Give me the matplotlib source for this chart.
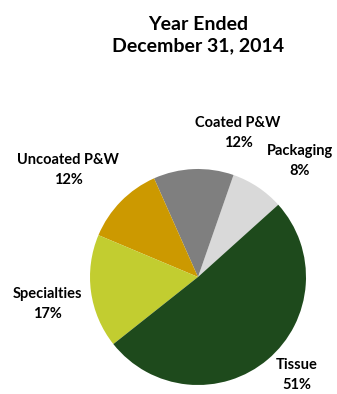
import matplotlib.pyplot as plt

labels = ['Packaging', 'Coated P&W', 'Uncoated P&W', 'Specialties', 'Tissue']
shares = [8, 12, 12, 17, 51]
colors = ['#d9d9d9', '#7f7f7f', '#cc9900', '#c2cd30', '#1e4a1c']

W, H = 337, 394
fig = plt.figure(figsize=(W / 100, H / 100), dpi=100)
ax = fig.add_axes([0, 0, 1, 1])

plt.rcParams['font.family'] = ['Lato', 'DejaVu Sans']

ax.pie(shares, colors=colors, startangle=42, counterclock=True,
       center=(198, H - 277), radius=108, frame=True,
       wedgeprops={'linewidth': 0})
ax.set_xlim(0, W)
ax.set_ylim(0, H)
ax.set_aspect('equal')
ax.axis('off')

ax.text(198, H - 35, 'Year Ended\nDecember 31, 2014', ha='center', va='center',
        fontsize=14, fontweight='bold', linespacing=1.35)

# label centres in pixel coordinates (from top)
label_pos = [(300, 161), (238, 133), (68, 170), (47, 304), (297, 375)]
for lab, val, (px, py) in zip(labels, shares, label_pos):
    ax.text(px, H - py, f'{lab}\n{val}%', ha='center', va='center',
            fontsize=10.5, fontweight='bold', linespacing=1.55)

fig.savefig('out.png', dpi=100)
